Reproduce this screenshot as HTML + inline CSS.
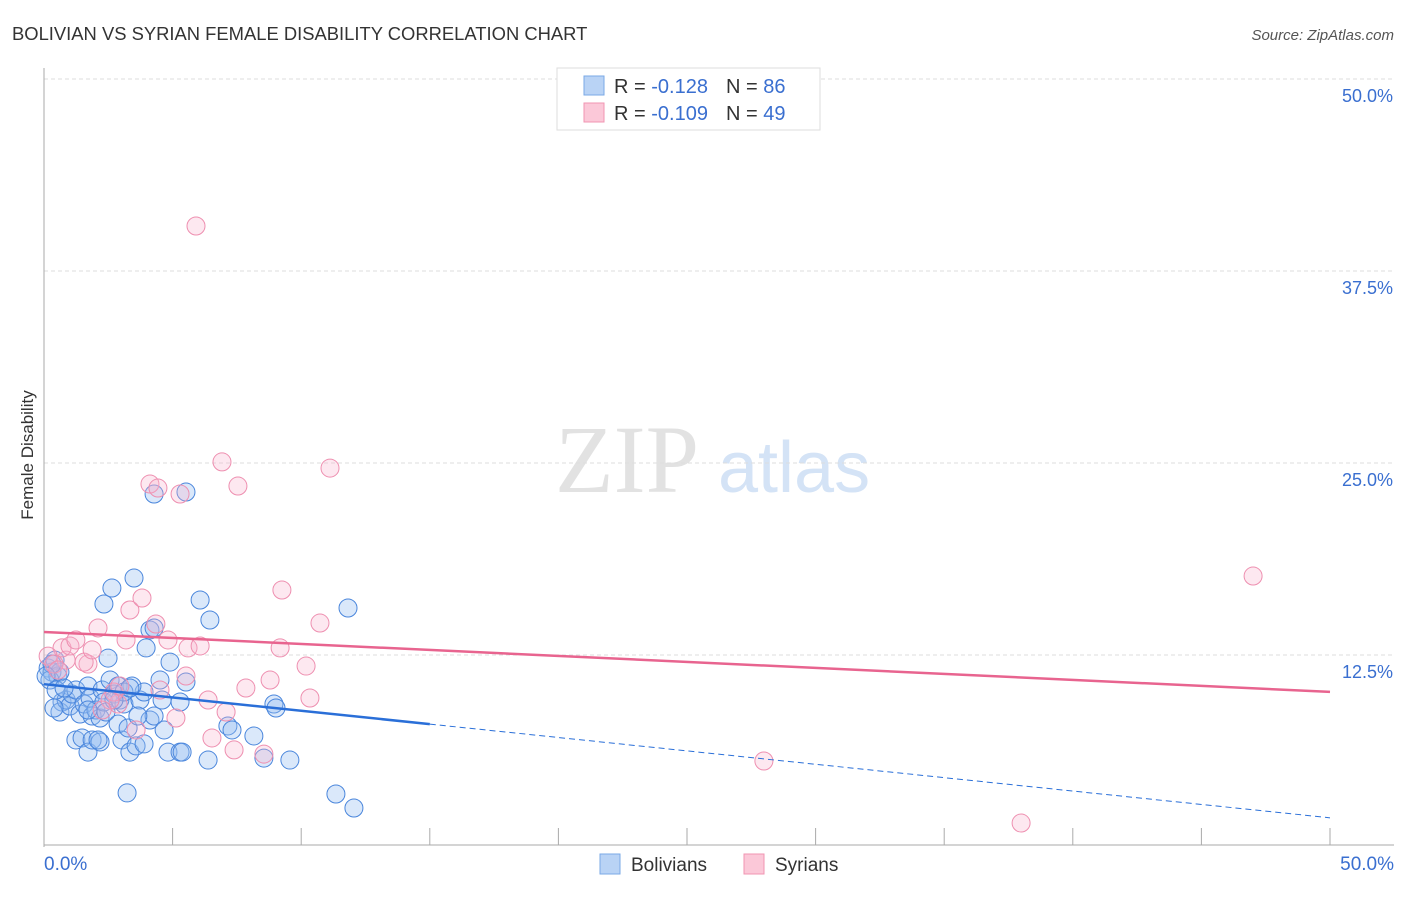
<!DOCTYPE html>
<html><head><meta charset="utf-8"><style>
body{margin:0;background:#fff;font-family:"Liberation Sans",sans-serif}
</style></head><body>
<svg id="chart" width="1406" height="892">
<text x="12" y="40" font-size="18.4" fill="#333">BOLIVIAN VS SYRIAN FEMALE DISABILITY CORRELATION CHART</text>
<text x="1394" y="40" font-size="15" fill="#555" font-style="italic" text-anchor="end">Source: ZipAtlas.com</text>
<text x="33" y="455" font-size="17" fill="#333" text-anchor="middle" transform="rotate(-90 33 455)">Female Disability</text>
<text x="555" y="492" font-size="96" fill="#e2e2e2" font-family="Liberation Serif,serif">ZIP</text>
<text x="718" y="492" font-size="72" fill="#d4e3f6">atlas</text>
<g id="grid"></g><g id="pts"></g><g id="lines"></g>
<g>
<rect x="557" y="68" width="263" height="62" fill="#fff" stroke="#ddd"/>
<rect x="584" y="76" width="20" height="19" fill="#b9d3f5" stroke="#7aa8e6"/>
<rect x="584" y="103" width="20" height="19" fill="#fbc8d8" stroke="#f095b2"/>
<text x="614" y="93" font-size="20" fill="#333">R = <tspan fill="#3a6fd0">-0.128</tspan><tspan dx="18">N = </tspan><tspan fill="#3a6fd0">86</tspan></text>
<text x="614" y="120" font-size="20" fill="#333">R = <tspan fill="#3a6fd0">-0.109</tspan><tspan dx="18">N = </tspan><tspan fill="#3a6fd0">49</tspan></text>
</g>
<g>
<rect x="600" y="854" width="20" height="20" fill="#b9d3f5" stroke="#7aa8e6"/>
<text x="631" y="871" font-size="19" fill="#333">Bolivians</text>
<rect x="744" y="854" width="20" height="20" fill="#fbc8d8" stroke="#f095b2"/>
<text x="775" y="871" font-size="19" fill="#333">Syrians</text>
</g>
<text x="44" y="870" font-size="19" fill="#3a6fd0">0.0%</text>
<text x="1394" y="870" font-size="19" fill="#3a6fd0" text-anchor="end">50.0%</text>
</svg>
<script>
const yTicks=[12.5,25,37.5,50];
const yTickLabels=["12.5%","25.0%","37.5%","50.0%"];
const bolPx=[[48,668],[52,672],[55,660],[58,676],[50,680],[62,702],[60,712],[66,700],[70,706],[72,694],[76,690],[80,714],[84,704],[88,686],[90,698],[92,716],[96,710],[100,718],[102,690],[104,702],[106,712],[110,680],[114,694],[118,686],[120,700],[124,704],[76,740],[82,738],[88,752],[92,740],[100,742],[104,604],[112,588],[134,578],[122,740],[130,752],[136,746],[144,744],[118,724],[128,728],[140,700],[150,720],[154,716],[162,700],[160,680],[170,662],[146,648],[144,692],[132,686],[108,658],[150,630],[154,628],[154,494],[186,492],[200,600],[210,620],[168,752],[180,752],[182,752],[164,730],[180,702],[186,682],[208,760],[228,726],[232,730],[254,736],[264,758],[274,704],[276,708],[290,760],[336,794],[354,808],[348,608],[127,793],[60,672],[52,664],[46,676],[56,690],[64,688],[98,740],[138,716],[124,692],[114,700],[88,710],[54,708],[130,688]];
const syrPx=[[196,226],[150,484],[158,488],[180,494],[222,462],[238,486],[330,468],[1253,576],[282,590],[320,623],[130,610],[142,598],[98,628],[126,640],[156,624],[168,640],[188,648],[200,646],[280,648],[306,666],[270,680],[246,688],[186,676],[208,700],[176,718],[226,712],[310,698],[212,738],[234,750],[264,754],[136,730],[118,704],[114,692],[110,700],[88,664],[84,662],[66,660],[62,648],[70,646],[76,640],[92,650],[48,656],[54,664],[58,670],[764,761],[1021,823],[120,686],[102,710],[160,690]];
const bolX=bolPx.map(p=>+((p[0]-44)/25.72).toFixed(2));
const bolY=bolPx.map(p=>+((847-p[1])/15.36).toFixed(2));
const syrX=syrPx.map(p=>+((p[0]-44)/25.72).toFixed(2));
const syrY=syrPx.map(p=>+((847-p[1])/15.36).toFixed(2));
const bolTrend=[10.6,8.0,1.9];
const syrTrend=[14.0,10.1];
const X=v=>44+v*25.72, Y=v=>847-v*15.36;
const NS="http://www.w3.org/2000/svg";
function mk(t,a,p){const e=document.createElementNS(NS,t);for(const k in a)e.setAttribute(k,a[k]);p.appendChild(e);return e;}
const grid=document.getElementById('grid');
yTicks.forEach((t,i)=>{
 const l=mk('line',{x1:44,x2:1394,y1:Y(t),y2:Y(t),stroke:'#ddd','stroke-dasharray':'4,3'},grid);
 
 
 const tx=mk('text',{x:1393,y:Y(t)+23,'font-size':18,fill:'#3a6fd0','text-anchor':'end'},grid);
 tx.textContent=yTickLabels[i];
 
 
});
mk('line',{x1:44,x2:44,y1:68,y2:847,stroke:'#aaa'},grid);
mk('line',{x1:44,x2:1394,y1:845,y2:845,stroke:'#aaa'},grid);
for(let i=1;i<=10;i++){const x=X(i*5);const l=mk('line',{x1:x,x2:x,y1:828,y2:845,stroke:'#aaa'},grid);
 
 }
const pts=document.getElementById('pts');
bolX.forEach((x,i)=>{const c=mk('circle',{cx:X(x),cy:Y(bolY[i]),r:9,fill:'rgba(150,190,240,0.35)',stroke:'#4a86dc','stroke-width':1},pts);
 
 });
syrX.forEach((x,i)=>{const c=mk('circle',{cx:X(x),cy:Y(syrY[i]),r:9,fill:'rgba(248,180,204,0.3)',stroke:'#ee8fb0','stroke-width':1},pts);
 
 });
const lg=document.getElementById('lines');
let a=mk('line',{x1:X(0),y1:Y(bolTrend[0]),x2:X(15),y2:Y(bolTrend[1]),stroke:'#2a6fd8','stroke-width':2.5},lg);


a=mk('line',{x1:X(15),y1:Y(bolTrend[1]),x2:X(50),y2:Y(bolTrend[2]),stroke:'#2a6fd8','stroke-width':1,'stroke-dasharray':'6,4'},lg);


a=mk('line',{x1:X(0),y1:Y(syrTrend[0]),x2:X(50),y2:Y(syrTrend[1]),stroke:'#e8648f','stroke-width':2.5},lg);


</script>
</body></html>
